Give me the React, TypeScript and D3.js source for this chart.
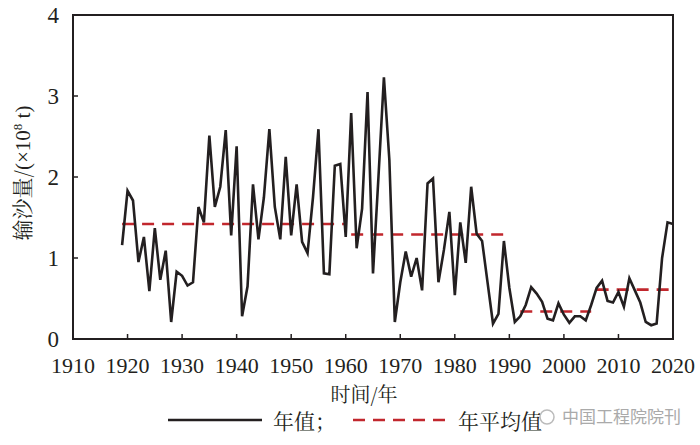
import React from "react";
import * as d3 from "d3";

// annual sediment load, 10^8 t
const years = d3.range(1919, 2021);
const annual = [
  1.16, 1.83, 1.71, 0.95, 1.26, 0.59, 1.37, 0.73, 1.09, 0.21,
  0.83, 0.78, 0.66, 0.7, 1.63, 1.44, 2.51, 1.63, 1.88, 2.58,
  1.28, 2.38, 0.28, 0.65, 1.91, 1.23, 1.75, 2.59, 1.63, 1.23,
  2.25, 1.28, 1.91, 1.2, 1.06, 1.75, 2.59, 0.81, 0.8, 2.14,
  2.16, 1.26, 2.79, 1.12, 1.61, 3.05, 0.81, 2.0, 3.23, 2.21,
  0.21, 0.7, 1.08, 0.77, 1.0, 0.6, 1.92, 1.98, 0.7, 1.1,
  1.57, 0.54, 1.44, 0.94, 1.88, 1.3, 1.21, 0.7, 0.19, 0.31,
  1.21, 0.63, 0.21, 0.28, 0.42, 0.64, 0.56, 0.46, 0.25, 0.23,
  0.44, 0.3, 0.2, 0.28, 0.28, 0.23, 0.42, 0.63, 0.72, 0.47,
  0.45, 0.58, 0.4, 0.75, 0.6, 0.45, 0.21, 0.17, 0.19, 1.0,
  1.44, 1.42,
];

// period means
const periodStart = [1919, 1961, 1992, 2006];
const periodEnd = [1960, 1990, 2005, 2020];
const periodMean = [1.42, 1.29, 0.34, 0.61];

const xTicks = d3.range(1910, 2021, 10);
const yTicks = [0, 1, 2, 3, 4];

const latin = { fontFamily: "Liberation Serif", fill: "#231f20" };
const cjk = { fontFamily: "Noto Serif CJK SC", fill: "#231f20" };

export default function App() {
  const margin = { top: 15, right: 27, bottom: 106, left: 73 };
  const W = 700;
  const H = 445;
  const x = d3.scaleLinear().domain([1910, 2020]).range([margin.left, W - margin.right]);
  const y = d3.scaleLinear().domain([0, 4]).range([H - margin.bottom, margin.top]);

  const line = d3
    .line<number>()
    .x((_, i) => x(years[i]))
    .y((d) => y(d));

  const x0 = x.range()[0];
  const x1 = x.range()[1];
  const y0 = y.range()[0];
  const y1 = y.range()[1];

  return (
    <div style={{ position: "fixed", left: 0, top: 0 }}>
      <svg width={W} height={H} style={{ display: "block", background: "#fff" }}>
        {/* mean lines */}
        {periodMean.map((m, i) => (
          <line
            key={i}
            x1={x(periodStart[i])}
            x2={x(periodEnd[i])}
            y1={y(m)}
            y2={y(m)}
            stroke="#c1272d"
            strokeWidth={2.6}
            strokeDasharray="12,8"
          />
        ))}
        <path d={line(annual) ?? ""} fill="none" stroke="#231f20" strokeWidth={2.6} />

        {/* frame */}
        <rect x={x0} y={y1} width={x1 - x0} height={y0 - y1} fill="none" stroke="#231f20" strokeWidth={2} />

        {/* x axis */}
        {xTicks.map((t) => (
          <g key={t}>
            <line x1={x(t)} x2={x(t)} y1={y0} y2={y0 - 5} stroke="#231f20" strokeWidth={1.5} />
            <text x={x(t)} y={373} textAnchor="middle" fontSize={22} style={latin}>
              {t}
            </text>
          </g>
        ))}
        {/* y axis */}
        {yTicks.map((t) => (
          <g key={t}>
            <line x1={x0} x2={x0 + 5} y1={y(t)} y2={y(t)} stroke="#231f20" strokeWidth={1.5} />
            <text x={59} y={y(t)} dy="0.35em" textAnchor="end" fontSize={23} style={latin}>
              {t}
            </text>
          </g>
        ))}

        <text x={364} y={402} textAnchor="middle" fontSize={20} style={cjk}>
          时间/年
        </text>
        <text transform="translate(30,173) rotate(-90)" textAnchor="middle" fontSize={21} style={cjk}>
          输沙量/
          <tspan style={latin}>(×10</tspan>
          <tspan dy={-8} fontSize={13} style={latin}>8</tspan>
          <tspan dy={8} style={latin}> t)</tspan>
        </text>

        {/* legend */}
        <line x1={168} x2={262} y1={420} y2={420} stroke="#231f20" strokeWidth={2.6} />
        <text x={273} y={429} fontSize={21} style={cjk}>年值；</text>
        <line x1={353} x2={447} y1={420} y2={420} stroke="#c1272d" strokeWidth={2.6} strokeDasharray="12,8" />
        <text x={458} y={429} fontSize={21} style={cjk}>年平均值</text>

        {/* watermark */}
        <circle cx={547} cy={417} r={7} fill="none" stroke="#bbb" strokeWidth={1.5} />
        <text x={562} y={423} fontSize={17} fill="#aaa" style={{ fontFamily: "Noto Sans CJK SC" }}>
          中国工程院院刊
        </text>
      </svg>
    </div>
  );
}
